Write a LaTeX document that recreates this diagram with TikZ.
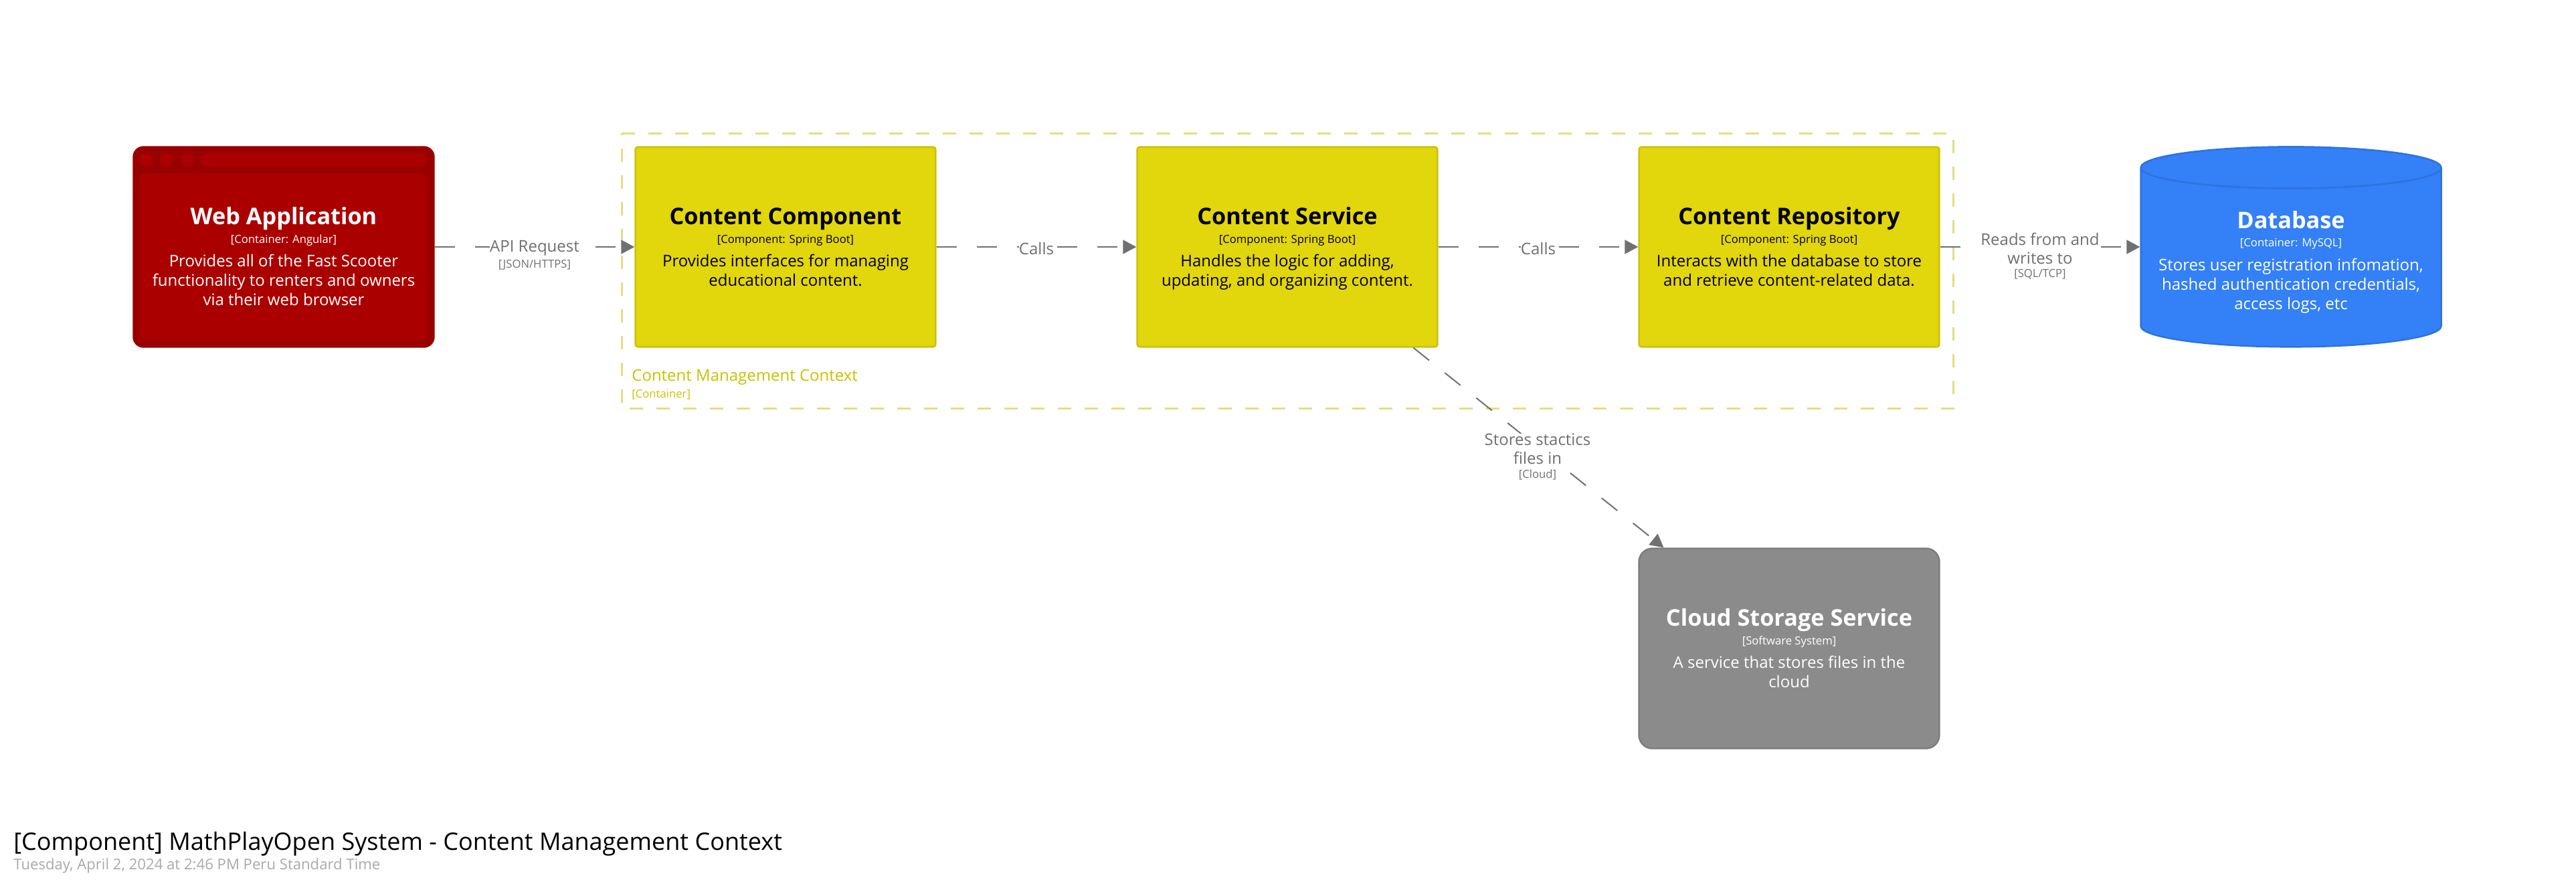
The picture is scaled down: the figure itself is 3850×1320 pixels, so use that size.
\documentclass[tikz,border=0pt]{standalone}
\usepackage{xcolor}
\usepackage{fontspec}
\setmainfont{Open Sans}
\usetikzlibrary{arrows.meta,positioning,shapes.geometric,calc}

\definecolor{webfill}{HTML}{AA0000}
\definecolor{webline}{HTML}{990000}
\definecolor{compfill}{HTML}{E2D60C}
\definecolor{compline}{HTML}{CBC10B}
\definecolor{dbfill}{HTML}{3380F7}
\definecolor{dbline}{HTML}{2E73DE}
\definecolor{cloudfill}{HTML}{8B8B8B}
\definecolor{cloudline}{HTML}{7D7D7D}
\definecolor{ctxline}{HTML}{E3DE82}
\definecolor{ctxtext}{HTML}{CCC000}
\definecolor{rel}{HTML}{707070}
\definecolor{datetext}{HTML}{A9A9A9}

\newcommand{\cardtext}[4][31pt]{{\rule{0pt}{#1}\fontsize{19.5}{16.5}\selectfont\bfseries #2}\\[-1pt]
  {\fontsize{9.5}{16.5}\selectfont [#3]}\\[3.6pt]#4}

\begin{document}
\begin{tikzpicture}[x=0.02cm, y=-0.02cm,
    card/.style={draw, line width=.05cm, minimum width=8.98cm, minimum height=5.98cm,
      align=center, inner sep=0pt, font=\fontsize{13.66}{16.5}\selectfont},
    comp/.style={card, rounded corners=.08cm, fill=compfill, draw=compline, text=black},
    rellabel/.style={align=center, fill=white, inner sep=0pt, text=rel, yshift=-.04cm,
      font=\fontsize{13.66}{16}\selectfont},
    reltag/.style={align=center, inner sep=0pt, text=rel, font=\fontsize{9.5}{12}\selectfont},
    fl/.style={-{Triangle[length=.4cm, width=.42cm]}, line width=.04cm, draw=rel,
      dash pattern=on .6cm off .6cm}
  ]
    \useasboundingbox (0,0) rectangle (3850,1320);

    % boundary of the context
    \draw[ctxline, line width=.06cm, dash pattern=on .4cm off .4cm]
      (929,199) -- (2919,199) -- (2919,610) -- (929,610) -- cycle;
    \node[anchor=west, inner sep=0pt, text=ctxtext, font=\fontsize{13.66}{16}\selectfont]
      (ctxname) at (944,564) {Content Management Context};
    \node[anchor=west, inner sep=0pt, text=ctxtext, font=\fontsize{9.5}{12}\selectfont]
      (ctxtag) at (944,590) {[Container]};

    % browser window, text goes on top afterwards
    \node[card, rounded corners=.3cm, fill=webline, draw=webline] (web) at (424,369) {};
    \foreach \x in {218,249,280} {
      \fill[webfill] (\x,239) circle (.2cm);
    }
    \fill[webfill, rounded corners=.2cm] (299,229) rectangle (638,249);
    \fill[webfill, rounded corners=.2cm] (208,259) rectangle (638,509);
    \node[card, draw=none, text=white] (webtext) at (424,369)
      {\cardtext{Web Application}{Container: Angular}{Provides all of the Fast Scooter\\
       functionality to renters and owners\\via their web browser}};

    \node[comp] (comp1) at (1174,369)
      {\cardtext{Content Component}{Component: Spring Boot}{Provides interfaces for managing\\
       educational content.\\\mbox{}}};
    \node[comp] (comp2) at (1924,369)
      {\cardtext{Content Service}{Component: Spring Boot}{Handles the logic for adding,\\
       updating, and organizing content.\\\mbox{}}};
    \node[comp] (comp3) at (2674,369)
      {\cardtext{Content Repository}{Component: Spring Boot}{Interacts with the database to store\\
       and retrieve content-related data.\\\mbox{}}};

    \node[card, cylinder, shape border rotate=90, shape aspect=.157, fill=dbfill, draw=dbline,
      text=white] (db) at (3424,385)
      {\cardtext[22.4pt]{Database}{Container: MySQL}{Stores user registration infomation,\\
       hashed authentication credentials,\\access logs, etc}};

    \node[card, rounded corners=.4cm, fill=cloudfill, draw=cloudline, text=white] (cloud) at (2674,969)
      {\cardtext{Cloud Storage Service}{Software System}{A service that stores files in the\\
       cloud\\\mbox{}}};

    \foreach \a/\b in {web/comp1, comp1/comp2, comp2/comp3, comp2/cloud} {
      \draw[fl] (\a) -- (\b);
    }
    \draw[fl] (comp3) -- (comp3 -| db.west);

    \node[rellabel] (apilabel) at ($(web.east)!.5!(comp1.west)$) {API Request};
    \node[reltag, below=.1cm of apilabel] (apitag) {[JSON/HTTPS]};
    \node[rellabel] (calls1) at ($(comp1.east)!.5!(comp2.west)$) {Calls};
    \node[rellabel] (calls2) at ($(comp2.east)!.5!(comp3.west)$) {Calls};
    \node[rellabel] (dblabel) at ($(comp3.east)!.5!(comp3 -| db.west)$) {Reads from and\\writes to};
    \node[reltag, below=.14cm of dblabel] (dbtag) {[SQL/TCP]};
    \node[rellabel] (cloudlabel) at (2298,669) {Stores stactics\\files in};
    \node[reltag, below=.14cm of cloudlabel] (cloudtag) {[Cloud]};

    \node[anchor=west, inner sep=0pt, font=\fontsize{20.5}{24}\selectfont] (title) at (20,1261)
      {[Component] MathPlayOpen System - Content Management Context};
    \node[anchor=west, inner sep=0pt, text=datetext, font=\fontsize{12.6}{16}\selectfont] (date) at (20,1294)
      {Tuesday, April 2, 2024 at 2:46 PM Peru Standard Time};
  \end{tikzpicture}
\end{document}
